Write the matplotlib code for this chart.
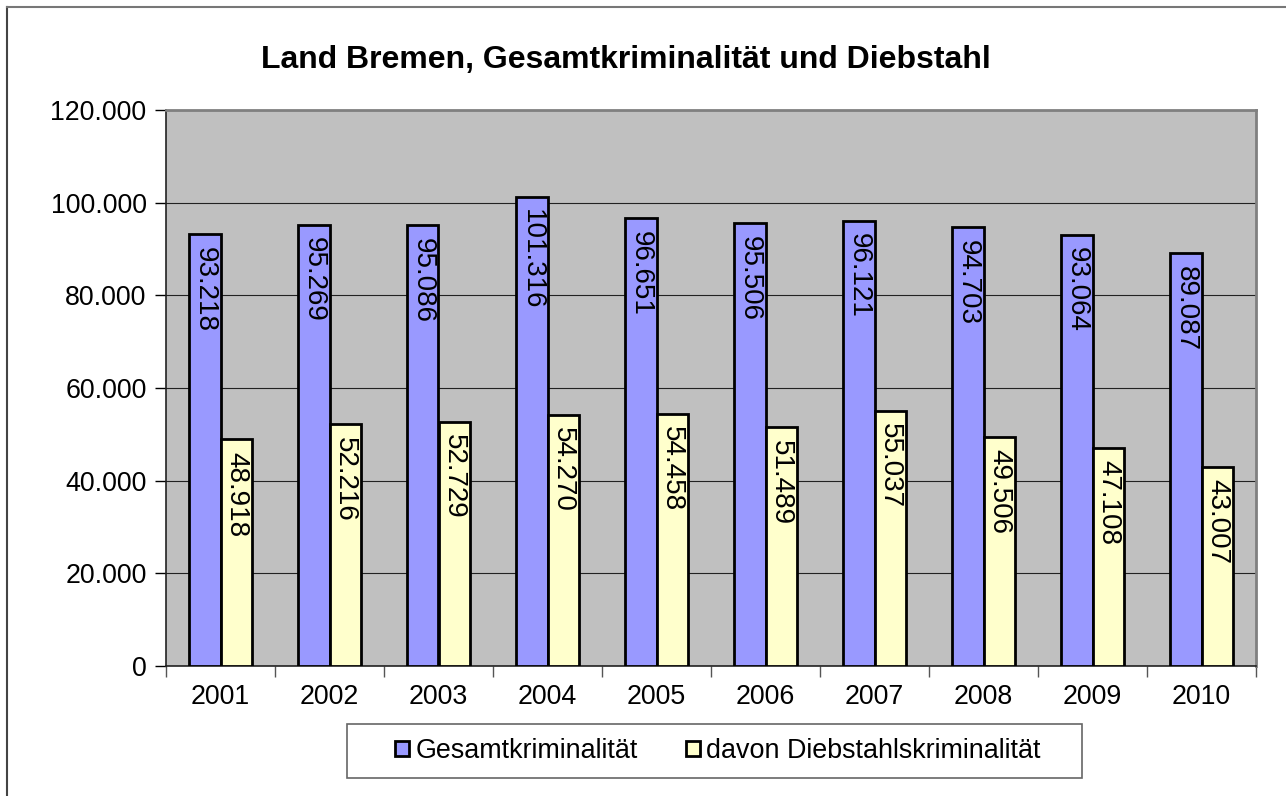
import numpy as np
import matplotlib.pyplot as plt
from matplotlib.lines import Line2D
from matplotlib.patches import Rectangle
from matplotlib.ticker import FuncFormatter

# Daten
jahre = ['2001', '2002', '2003', '2004', '2005', '2006', '2007', '2008', '2009', '2010']
gesamt = [93218, 95269, 95086, 101316, 96651, 95506, 96121, 94703, 93064, 89087]
diebstahl = [48918, 52216, 52729, 54270, 54458, 51489, 55037, 49506, 47108, 43007]
serien = ['Gesamtkriminalität', 'davon Diebstahlskriminalität']

plt.rcParams['font.family'] = ['Liberation Sans', 'DejaVu Sans']

W, H = 1286, 796
fig = plt.figure(figsize=(W / 100, H / 100), dpi=100)
ax = fig.add_axes([166 / W, 1 - 666 / H, (1256 - 166) / W, (666 - 110) / H])
ax.set_facecolor('#C0C0C0')

def punkt(v):
    return f'{int(v):,}'.replace(',', '.')

x = np.arange(len(jahre))
bw = 0.285
b1 = ax.bar(x - bw / 2, gesamt, bw, color='#9999FF', edgecolor='black', linewidth=2, zorder=3)
b2 = ax.bar(x + bw / 2, diebstahl, bw, color='#FFFFCC', edgecolor='black', linewidth=2, zorder=3)

for bars, werte in ((b1, gesamt), (b2, diebstahl)):
    for b, v in zip(bars, werte):
        ax.annotate(punkt(v), (b.get_x() + b.get_width() / 2, v), xytext=(0, -9),
                    textcoords='offset points', rotation=-90, ha='center', va='top',
                    fontsize=20, zorder=4)

ax.set_xlim(-0.5, len(jahre) - 0.5)
ax.set_ylim(0, 120000)
ax.set_yticks(np.arange(0, 120001, 20000))
ax.yaxis.set_major_formatter(FuncFormatter(lambda v, p: punkt(v)))
ax.yaxis.grid(True, color='#222222', linewidth=0.8, zorder=1)
ax.tick_params(axis='y', labelsize=19.3, length=8, width=1, pad=6)

ax.set_xticks(x)
ax.set_xticklabels(jahre)
ax.set_xticks(np.arange(-0.5, len(jahre)), minor=True)
ax.tick_params(axis='x', which='major', length=0, labelsize=19.3, pad=13)
ax.tick_params(axis='x', which='minor', length=8, width=1, color='#555555')

for s in ('left', 'bottom'):
    ax.spines[s].set_color('#222222')
    ax.spines[s].set_linewidth(1.2)
for s in ('top', 'right'):
    ax.spines[s].set_color('#808080')
    ax.spines[s].set_linewidth(2)

# Titel
fig.text(626 / W, 1 - 60 / H, 'Land Bremen, Gesamtkriminalität und Diebstahl',
         ha='center', va='center', fontsize=23, fontweight='bold')

# Legende
fig.patches.append(Rectangle((347 / W, 1 - 778 / H), (1082 - 347) / W, (778 - 724) / H,
                             transform=fig.transFigure, facecolor='white',
                             edgecolor='#666666', linewidth=1.2))
fig.legend([b1, b2], serien, loc='center', bbox_to_anchor=(718 / W, 1 - 751 / H),
           ncol=2, frameon=False, fontsize=19.4, handlelength=0.5, handleheight=0.5,
           handletextpad=0.25, columnspacing=1.8)

# Rahmen
fig.add_artist(Line2D([7 / W, 7 / W], [0, 1 - 7 / H], transform=fig.transFigure,
                      color='#444444', linewidth=1.5))
fig.add_artist(Line2D([7 / W, 1], [1 - 7 / H, 1 - 7 / H], transform=fig.transFigure,
                      color='#777777', linewidth=1.5))

fig.savefig('out.png', dpi=100)
